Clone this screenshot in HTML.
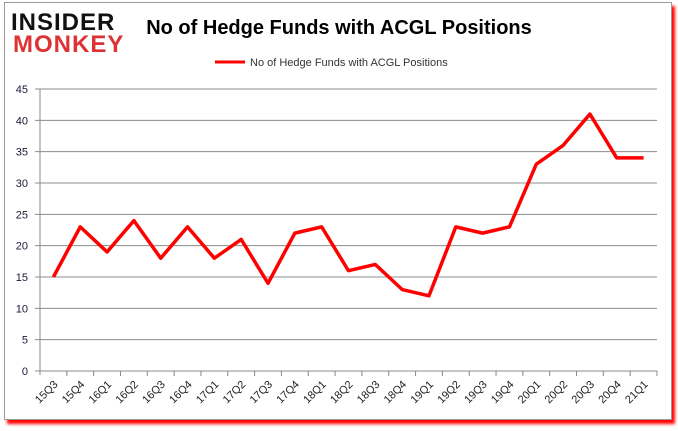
<!DOCTYPE html>
<html><head><meta charset="utf-8"><style>
body{margin:0;background:#fff;width:678px;height:431px;overflow:hidden;font-family:"Liberation Sans",sans-serif}
</style></head><body>
<div style="position:absolute;left:4px;top:2px;width:666px;height:416px;border:1px solid #999;box-shadow:3px 4px 3px #f00;background:#fff"></div>
<svg width="678" height="431" style="position:absolute;left:0;top:0" id="c">
<text x="11" y="30" font-size="24" font-weight="bold" font-family="Liberation Sans" fill="#111" letter-spacing="1">INSIDER</text>
<text x="13" y="52" font-size="24" font-weight="bold" font-family="Liberation Sans" fill="#d33" letter-spacing="1">MONKEY</text>
<text x="339" y="34" font-size="20" font-weight="bold" text-anchor="middle" fill="#000">No of Hedge Funds with ACGL Positions</text>
<line x1="215" y1="62" x2="245" y2="62" stroke="#f00" stroke-width="3"/>
<text x="250" y="66" font-size="11" fill="#333">No of Hedge Funds with ACGL Positions</text>
<g id="g"></g>
</svg>
<script>
const categories=["15Q3","15Q4","16Q1","16Q2","16Q3","16Q4","17Q1","17Q2","17Q3","17Q4","18Q1","18Q2","18Q3","18Q4","19Q1","19Q2","19Q3","19Q4","20Q1","20Q2","20Q3","20Q4","21Q1"];
const values=[15,23,19,24,18,23,18,21,14,22,23,16,17,13,12,23,22,23,33,36,41,34,34];
const yTicks=[0,5,10,15,20,25,30,35,40,45];
const L=40,R=657,T=89,B=371,yMax=45;
const step=(R-L)/categories.length;
const x=i=>L+step*(i+0.5);
const y=v=>B-(B-T)*v/yMax;
const g=document.getElementById('g');
const ns='http://www.w3.org/2000/svg';
function mk(t,a){const e=document.createElementNS(ns,t);for(const k in a)e.setAttribute(k,a[k]);g.appendChild(e);return e;}
yTicks.forEach(v=>{
  const l=mk('line',{x1:L-5,x2:R,y1:y(v),y2:y(v),stroke:'#8c8c8c'});
  
  
  const t=mk('text',{x:L-12,y:y(v)+4,'font-size':11,'text-anchor':'end',fill:'#1a1a3a'});
  t.textContent=v;
  
  
});
const ax=mk('line',{x1:L,x2:L,y1:T,y2:B+4,stroke:'#888'});


categories.forEach((c,i)=>{
  const tx=L+step*(i+1);
  const tk=mk('line',{x1:tx,x2:tx,y1:B,y2:B+5,stroke:'#888'});
  
  
  const cx=x(i)+5,cy=B+14;
  const t=mk('text',{x:cx,y:cy,'font-size':11,'text-anchor':'end',fill:'#222',transform:`rotate(-45 ${cx} ${cy})`});
  t.textContent=c;
  
  
});
const p=mk('polyline',{points:values.map((v,i)=>x(i)+','+y(v)).join(' '),fill:'none',stroke:'#f00','stroke-width':3.5,'stroke-linejoin':'round'});


</script>
</body></html>
